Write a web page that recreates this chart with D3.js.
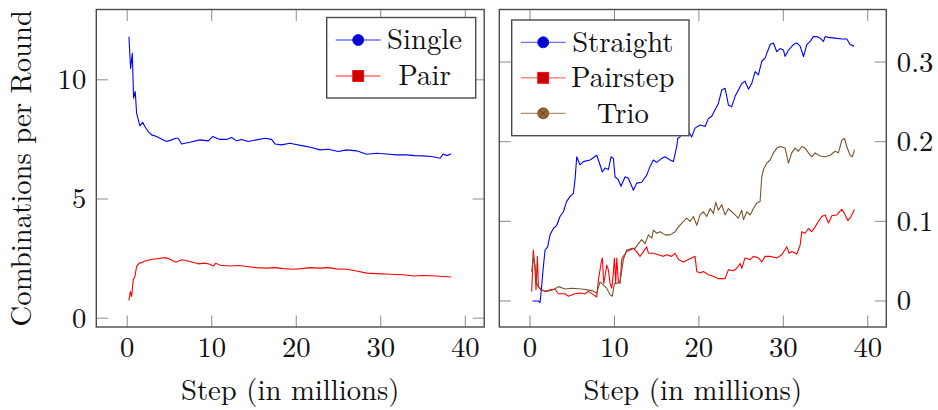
<!DOCTYPE html>
<html><head><meta charset="utf-8">
<script src="https://cdn.jsdelivr.net/npm/d3@7"></script>
<style>
html,body{margin:0;padding:0;background:#fff;}
svg{display:block;}
</style></head><body>
<svg id="chart" width="938" height="410" font-family="Latin Modern Roman, Liberation Serif, serif"></svg>
<script>
// ---- Data (x in millions of steps) ----
const singleX = [0.20,0.40,0.60,0.75,0.95,1.11,1.50,1.82,2.09,2.49,2.88,3.48,3.87,4.66,5.25,5.76,6.04,6.43,7.42,8.60,9.59,10.10,10.97,11.76,12.35,12.94,13.53,14.32,15.31,16.29,17.08,17.48,18.27,19.25,19.84,20.83,21.82,22.81,23.79,24.97,25.96,27.14,28.33,29.51,30.69,31.88,33.06,34.05,35.03,36.02,37.01,37.40,37.80,38.31];
const singleY = [11.81,10.48,11.11,9.23,9.51,8.60,8.07,8.22,8.04,7.83,7.69,7.62,7.55,7.41,7.48,7.55,7.55,7.31,7.38,7.48,7.44,7.62,7.50,7.50,7.58,7.44,7.50,7.41,7.48,7.55,7.50,7.31,7.27,7.34,7.30,7.23,7.16,7.06,7.09,6.99,7.06,7.02,6.88,6.92,6.89,6.85,6.85,6.82,6.81,6.78,6.71,6.89,6.82,6.89];

const pairX = [0.20,0.36,0.52,0.71,0.91,1.11,1.42,1.70,2.09,2.68,3.48,4.58,5.05,5.76,6.43,7.42,8.40,9.20,9.78,10.18,10.49,10.97,12.15,13.14,14.12,15.31,16.49,17.48,18.46,19.65,20.63,21.62,22.81,23.67,24.78,25.96,27.14,28.33,29.51,31.09,32.67,33.85,35.03,36.61,38.31];
const pairY = [0.74,1.12,0.91,1.61,1.75,2.17,2.31,2.33,2.40,2.45,2.49,2.54,2.47,2.35,2.45,2.38,2.28,2.31,2.26,2.19,2.31,2.22,2.19,2.21,2.17,2.12,2.10,2.12,2.08,2.05,2.08,2.12,2.10,2.12,2.07,2.05,1.98,1.89,1.87,1.84,1.82,1.77,1.79,1.77,1.73];

const straightX = [0.28,0.99,1.18,1.30,1.58,1.78,2.09,2.37,2.76,3.16,3.55,3.95,4.34,4.74,5.13,5.33,5.53,5.92,6.32,7.11,7.90,8.29,8.57,8.89,9.28,9.60,9.87,10.07,10.47,10.78,11.26,11.65,12.05,12.24,12.64,13.23,13.82,14.22,14.61,15.01,15.60,16.00,16.59,16.98,17.38,17.50,17.77,17.97,18.36,18.76,19.15,19.55,20.14,20.73,21.13,21.52,21.92,22.31,22.71,23.10,23.30,23.50,23.89,24.29,24.68,25.08,25.47,25.87,26.26,26.66,27.05,27.45,27.84,28.44,28.83,29.23,29.62,30.02,30.21,30.61,31.20,31.60,31.99,32.39,32.78,33.18,33.57,33.97,34.36,34.76,34.95,35.35,36.14,36.93,37.52,37.91,38.39];
const straightY = [0.000,0.000,-0.002,0.010,0.043,0.064,0.068,0.083,0.091,0.095,0.106,0.112,0.125,0.131,0.135,0.152,0.181,0.171,0.175,0.177,0.183,0.171,0.162,0.167,0.165,0.181,0.179,0.156,0.152,0.144,0.156,0.154,0.144,0.139,0.148,0.149,0.158,0.169,0.177,0.174,0.179,0.181,0.177,0.175,0.194,0.204,0.206,0.213,0.209,0.213,0.206,0.217,0.221,0.219,0.229,0.232,0.240,0.248,0.265,0.267,0.257,0.246,0.244,0.257,0.265,0.273,0.276,0.266,0.273,0.288,0.284,0.301,0.305,0.322,0.324,0.313,0.317,0.315,0.307,0.315,0.322,0.324,0.320,0.307,0.322,0.326,0.332,0.332,0.330,0.326,0.332,0.331,0.330,0.329,0.329,0.322,0.320];

const pairstepX = [0.20,0.39,0.59,0.71,0.87,0.99,1.30,1.78,2.37,2.96,3.36,4.15,4.54,5.33,5.92,6.52,6.91,7.50,7.90,8.10,8.41,8.57,8.73,8.89,9.08,9.28,9.48,9.68,9.87,9.99,10.15,10.27,10.47,10.66,10.86,11.06,11.45,11.85,12.24,12.64,13.03,13.43,13.82,14.02,14.61,15.21,15.80,16.19,16.78,17.18,17.58,18.17,18.76,19.55,19.75,20.14,20.54,21.13,21.72,22.31,23.10,23.50,24.09,24.49,24.88,25.08,25.47,26.07,26.46,27.05,27.45,27.84,28.44,29.23,29.82,30.41,30.69,31.00,31.60,31.99,32.19,32.58,32.98,33.37,33.77,34.16,34.56,34.95,35.35,35.74,36.33,36.93,37.24,37.64,38.03,38.43];
const pairstepY = [0.012,0.064,0.039,0.014,0.056,0.018,0.014,0.012,0.014,0.015,0.009,0.009,0.006,0.009,0.010,0.009,0.012,0.008,0.005,0.026,0.047,0.054,0.022,0.031,0.045,0.039,0.022,0.016,0.035,0.054,0.022,0.054,0.024,0.022,0.052,0.056,0.062,0.064,0.066,0.062,0.056,0.062,0.068,0.060,0.060,0.058,0.056,0.058,0.056,0.060,0.052,0.049,0.052,0.056,0.037,0.035,0.037,0.033,0.031,0.028,0.028,0.039,0.038,0.041,0.047,0.041,0.054,0.052,0.056,0.054,0.049,0.056,0.056,0.054,0.058,0.068,0.060,0.062,0.059,0.070,0.087,0.085,0.091,0.087,0.093,0.100,0.106,0.108,0.098,0.107,0.108,0.115,0.110,0.101,0.106,0.115];

const trioX = [0.20,0.39,0.59,0.79,0.99,1.38,1.97,2.76,3.36,4.15,4.94,6.12,7.31,7.90,8.29,8.69,9.08,9.48,9.75,9.99,10.27,10.66,11.06,11.45,12.05,12.44,12.84,13.23,13.63,14.02,14.42,14.61,15.01,15.40,16.00,16.59,17.18,17.58,18.17,18.56,18.96,19.35,19.75,20.14,20.54,20.93,21.33,21.72,22.00,22.31,22.71,23.10,23.50,23.89,24.29,24.68,25.08,25.28,25.67,26.07,26.46,26.86,27.25,27.45,27.65,28.04,28.44,28.83,29.23,29.62,30.21,30.61,31.00,31.40,31.79,32.19,32.58,32.98,33.37,33.77,34.36,34.95,35.55,36.14,36.53,36.93,37.24,37.52,37.91,38.19,38.43];
const trioY = [0.037,0.056,0.045,0.022,0.018,0.014,0.012,0.014,0.018,0.015,0.016,0.015,0.013,0.010,0.024,0.020,0.016,0.008,0.006,0.022,0.022,0.024,0.052,0.064,0.066,0.066,0.072,0.077,0.072,0.083,0.079,0.089,0.085,0.087,0.083,0.083,0.087,0.093,0.100,0.104,0.100,0.106,0.095,0.108,0.112,0.106,0.116,0.110,0.124,0.114,0.121,0.108,0.116,0.112,0.108,0.104,0.114,0.102,0.112,0.108,0.116,0.123,0.125,0.156,0.165,0.173,0.177,0.186,0.192,0.194,0.192,0.173,0.186,0.192,0.188,0.194,0.192,0.186,0.181,0.186,0.182,0.181,0.183,0.188,0.186,0.202,0.204,0.194,0.183,0.181,0.190];

const xTicks = [0, 10, 20, 30, 40];
const leftYTicks = [0, 5, 10];
const rightYTicks = [0, 0.1, 0.2, 0.3];
const xLabel = "Step (in millions)";
const yLabel = "Combinations per Round";
const leftNames = ["Single", "Pair"];
const rightNames = ["Straight", "Pairstep", "Trio"];

// ---- Styles ----
const BLUE = "#0000ff", RED = "#ff0000", BROWN = "#7a532c";
const FRAME = "#4a4a4a", TICK = "#8a8a8a";
const FS = 28.7;

const svg = d3.select("#chart");
const TOPY = 9.5, BOTY = 327;
const tickFmt = v => v === 0 ? "0" : (Number.isInteger(v) ? String(v) : d3.format(".1f")(v));

function zip(xs, ys){ return xs.map((x,i)=>[x, ys[i]]); }

function panel(opts){
  const g = svg.append("g");
  const x = d3.scaleLinear().domain(opts.xDomain).range([opts.left, opts.right]);
  const y = d3.scaleLinear().domain(opts.yDomain).range([BOTY, TOPY]);
  const tl = 11.5;
  const tg = g.append("g").attr("stroke", TICK).attr("stroke-width", 1);
  xTicks.forEach(t=>{
    tg.append("line").attr("x1", x(t)).attr("x2", x(t)).attr("y1", BOTY).attr("y2", BOTY - tl);
    tg.append("line").attr("x1", x(t)).attr("x2", x(t)).attr("y1", TOPY).attr("y2", TOPY + tl);
  });
  opts.yTicks.forEach(t=>{
    tg.append("line").attr("x1", opts.left).attr("x2", opts.left + tl).attr("y1", y(t)).attr("y2", y(t));
    tg.append("line").attr("x1", opts.right).attr("x2", opts.right - tl).attr("y1", y(t)).attr("y2", y(t));
  });
  const line = d3.line().x(d=>x(d[0])).y(d=>y(d[1]));
  const clip = "clip" + opts.id;
  svg.append("clipPath").attr("id", clip).append("rect")
    .attr("x", opts.left).attr("y", TOPY).attr("width", opts.right-opts.left).attr("height", BOTY-TOPY);
  opts.series.forEach(s=>{
    g.append("path").datum(zip(s.x, s.y)).attr("d", line)
      .attr("fill","none").attr("stroke", s.color).attr("stroke-width", 1.1)
      .attr("stroke-linejoin","round").attr("clip-path", `url(#${clip})`);
  });
  g.append("rect").attr("x", opts.left).attr("y", TOPY)
    .attr("width", opts.right-opts.left).attr("height", BOTY-TOPY)
    .attr("fill","none").attr("stroke", FRAME).attr("stroke-width", 1.4);
  xTicks.forEach(t=>{
    g.append("text").attr("x", x(t)).attr("y", 357).attr("text-anchor","middle")
      .attr("font-size", FS).attr("fill","#111").text(tickFmt(t));
  });
  opts.yTicks.forEach(t=>{
    const lbl = g.append("text").attr("y", y(t)).attr("dy","0.33em")
      .attr("font-size", FS).attr("fill","#111").text(tickFmt(t));
    if (opts.yRight) lbl.attr("x", opts.right + 10.5).attr("text-anchor","start");
    else lbl.attr("x", opts.left - 10).attr("text-anchor","end");
  });
  g.append("text").attr("x", (opts.left+opts.right)/2).attr("y", 400).attr("text-anchor","middle")
    .attr("font-size", FS).attr("fill","#111").text(xLabel);
  const L = opts.legend;
  const lg = g.append("g");
  lg.append("rect").attr("x", L.x).attr("y", L.y).attr("width", L.w).attr("height", L.h)
    .attr("fill","#fff").attr("stroke", FRAME).attr("stroke-width", 1.4);
  opts.series.forEach((s,i)=>{
    const cy = L.y + L.first + i*L.step;
    lg.append("line").attr("x1", L.x + 9).attr("x2", L.x + 54).attr("y1", cy).attr("y2", cy)
      .attr("stroke", s.legendLine).attr("stroke-width", 1.3);
    const mx = L.x + 31.5;
    if (s.mark === "circle") {
      lg.append("circle").attr("cx", mx).attr("cy", cy).attr("r", 5.5)
        .attr("fill", s.markFill).attr("stroke", s.color).attr("stroke-width", 0.8);
    } else if (s.mark === "square") {
      lg.append("rect").attr("x", mx-5.5).attr("y", cy-5.5).attr("width", 11).attr("height", 11)
        .attr("fill", s.markFill).attr("stroke", s.color).attr("stroke-width", 0.8);
    } else {
      lg.append("circle").attr("cx", mx).attr("cy", cy).attr("r", 5.5)
        .attr("fill", s.markFill).attr("stroke", "#6b4523").attr("stroke-width", 0.8);
      const d = 3.9;
      lg.append("path").attr("d", `M${mx-d},${cy-d}L${mx+d},${cy+d}M${mx-d},${cy+d}L${mx+d},${cy-d}`)
        .attr("stroke","#5a3a1c").attr("stroke-width", 0.8);
    }
    lg.append("text").attr("x", L.textX).attr("y", cy).attr("dy","0.33em").attr("text-anchor","middle")
      .attr("font-size", FS).attr("fill","#111").text(s.name);
  });
}

panel({
  id: "L", left: 96.3, right: 484.2, xDomain: [-3.66, 42.24], yDomain: [-0.37, 12.95],
  yTicks: leftYTicks, yRight: false,
  series: [
    {name: leftNames[0], x: singleX, y: singleY, color: BLUE, mark: "circle", markFill: "#0000cc", legendLine: "#7070ff"},
    {name: leftNames[1], x: pairX, y: pairY, color: RED, mark: "square", markFill: "#cc0000", legendLine: "#ff7070"}
  ],
  legend: {x: 326.7, y: 17.5, w: 149, h: 80.5, first: 22.5, step: 36, textX: 424.5}
});

panel({
  id: "R", left: 499.3, right: 886.3, xDomain: [-3.64, 42.2], yDomain: [-0.0327, 0.366],
  yTicks: rightYTicks, yRight: true,
  series: [
    {name: rightNames[0], x: straightX, y: straightY, color: BLUE, mark: "circle", markFill: "#0000cc", legendLine: "#7070ff"},
    {name: rightNames[1], x: pairstepX, y: pairstepY, color: RED, mark: "square", markFill: "#cc0000", legendLine: "#ff7070"},
    {name: rightNames[2], x: trioX, y: trioY, color: BROWN, mark: "otimes", markFill: "#99662f", legendLine: "#b09474"}
  ],
  legend: {x: 511.7, y: 20, w: 177.3, h: 115.7, first: 22.3, step: 35.5, textX: 622.8}
});

svg.append("text").attr("transform", `translate(30.5,${(TOPY+BOTY)/2}) rotate(-90)`)
  .attr("text-anchor","middle").attr("font-size", FS).attr("fill","#111").text(yLabel);
</script>
</body></html>
